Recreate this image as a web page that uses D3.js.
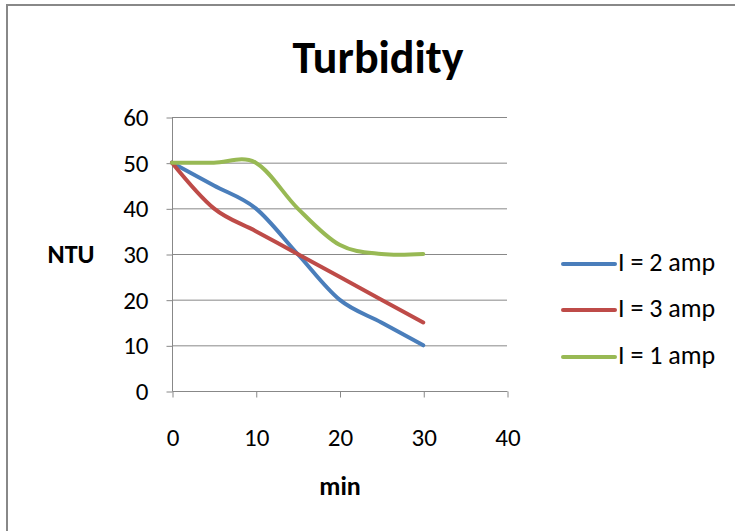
<!DOCTYPE html>
<html><head><meta charset="utf-8">
<script src="https://cdn.jsdelivr.net/npm/d3@7"></script>
<style>body{margin:0;background:#fff}svg{display:block}text{font-family:Carlito,Lato,"Open Sans",sans-serif}</style>
</head><body>
<svg id="c" width="735" height="531"></svg>
<script>
const minutes = [0, 5, 10, 15, 20, 25, 30];
const seriesNames = ["I = 2 amp", "I = 3 amp", "I = 1 amp"];
const amp2 = [50, 45, 40, 30, 20, 15, 10];
const amp3 = [50, 40, 35, 30, 25, 20, 15];
const amp1 = [50, 50, 50, 40, 32, 30, 30];
const colors = ["#4a7ebb", "#be4b48", "#98b954"];
const xTicks = [0, 10, 20, 30, 40];
const yTicks = [0, 10, 20, 30, 40, 50, 60];
const FONT = 'Carlito,Lato,"Open Sans",sans-serif';

const svg = d3.select("#c");
svg.append("rect").attr("x",7).attr("y",5).attr("width",740).attr("height",540)
  .attr("fill","#fff").attr("stroke","#888").attr("stroke-width",2);

const x = d3.scaleLinear().domain([0,40]).range([172,507]);
const y = d3.scaleLinear().domain([0,60]).range([391,117]);

// gridlines
svg.append("g").selectAll("line").data(yTicks.slice(1)).join("line")
  .attr("x1",172).attr("x2",507).attr("y1",d=>y(d)+0.5).attr("y2",d=>y(d)+0.5)
  .attr("stroke","#888").attr("stroke-width",1);

// y axis
const ya = svg.append("g").attr("transform","translate(172.5,0.5)")
  .call(d3.axisLeft(y).tickValues(yTicks).tickSize(6).tickPadding(18));
ya.select(".domain").attr("stroke","#888").attr("d","M0,117V391");
ya.selectAll(".tick line").attr("stroke","#888");
ya.selectAll(".tick text").attr("font-size",25).attr("fill","#000").attr("font-family",FONT);

// x axis
const xa = svg.append("g").attr("transform","translate(0.5,391.5)")
  .call(d3.axisBottom(x).tickValues(xTicks).tickSize(6));
xa.select(".domain").attr("stroke","#888").attr("d","M172,0H507");
xa.selectAll(".tick line").attr("stroke","#888");
xa.selectAll(".tick text").attr("font-size",25).attr("fill","#000").attr("font-family",FONT)
  .attr("y",54).attr("dy",0);

// lines
const data = [amp2, amp3, amp1];
const line = d3.line().x((d,i)=>x(minutes[i])).y(d=>y(d)).curve(d3.curveCardinal.tension(0));
svg.append("g").selectAll("path").data(data).join("path")
  .attr("d", line).attr("fill","none")
  .attr("stroke",(d,i)=>colors[i]).attr("stroke-width",4).attr("stroke-linecap","round");

// title and axis titles
svg.append("text").attr("x",378).attr("y",73).attr("text-anchor","middle")
  .attr("font-size",46).attr("font-weight","bold").text("Turbidity");
svg.append("text").attr("x",71).attr("y",263).attr("text-anchor","middle")
  .attr("font-size",26).attr("font-weight","bold").text("NTU");
svg.append("text").attr("x",340).attr("y",495).attr("text-anchor","middle")
  .attr("font-size",26).attr("font-weight","bold").text("min");

// legend
const legY = [264, 310, 357];
const lg = svg.append("g").selectAll("g").data(seriesNames).join("g");
lg.append("line").attr("x1",563).attr("x2",615).attr("y1",(d,i)=>legY[i]).attr("y2",(d,i)=>legY[i])
  .attr("stroke",(d,i)=>colors[i]).attr("stroke-width",4).attr("stroke-linecap","round");
lg.append("text").attr("x",618).attr("y",(d,i)=>legY[i]+7).attr("font-size",26).text(d=>d);
</script>
</body></html>
